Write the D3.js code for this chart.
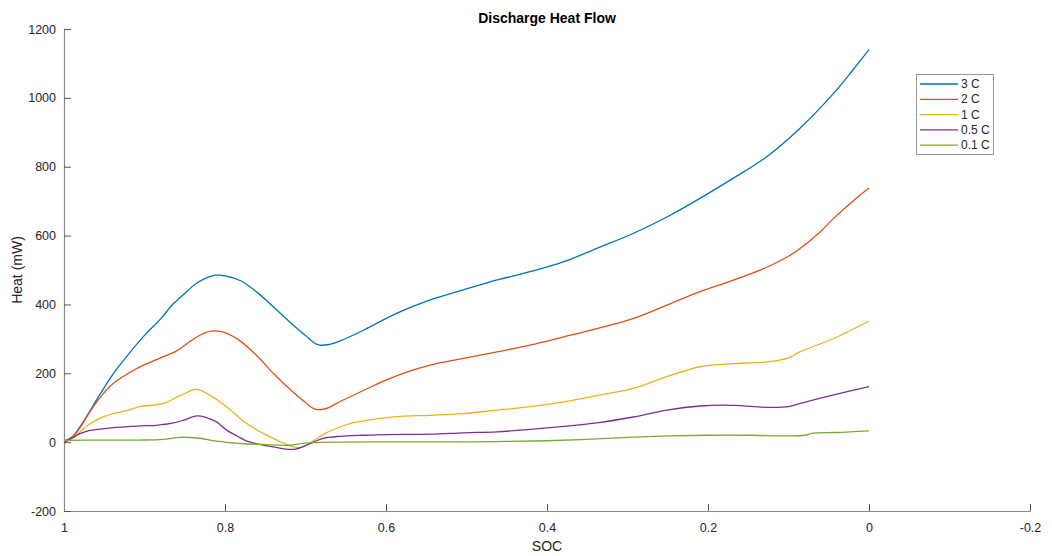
<!DOCTYPE html>
<html><head><meta charset="utf-8">
<script src="https://cdn.jsdelivr.net/npm/d3@7"></script>
<style>
body{margin:0;background:#fff;}
svg{display:block;font-family:"Liberation Sans",Arial,Helvetica,sans-serif;}
</style></head>
<body><svg id="c" width="1052" height="556"></svg>
<script>
// ---- data ----
const seriesNames = ["3 C","2 C","1 C","0.5 C","0.1 C"];
const seriesColors = ["#0072BD","#D95319","#EDB120","#7E2F8E","#77AC30"];

const soc3C  = [1,0.99,0.98,0.97,0.955,0.94,0.92,0.9,0.88,0.865,0.85,0.835,0.82,0.81,0.8,0.78,0.76,0.74,0.72,0.7,0.685,0.67,0.657,0.628,0.587,0.545,0.504,0.462,0.421,0.379,0.338,0.293,0.251,0.21,0.169,0.127,0.086,0.044,0.02,0];
const heat3C = [3,15,45,82,140,195,255,310,358,400,432,462,480,485,483,468,435,393,350,310,283,284,294,325,374,413,442,471,495,524,563,606,654,708,766,829,911,1013,1081,1140];

const soc2C  = [1,0.99,0.98,0.97,0.955,0.94,0.92,0.9,0.88,0.86,0.845,0.83,0.815,0.8,0.78,0.76,0.74,0.72,0.7,0.688,0.675,0.657,0.628,0.6,0.57,0.545,0.504,0.462,0.421,0.379,0.338,0.293,0.251,0.21,0.169,0.127,0.1,0.086,0.06,0.044,0.02,0];
const heat2C = [3,14,42,80,130,168,200,225,245,265,290,312,323,318,292,250,200,155,115,96,97,118,150,180,207,224,243,262,282,306,330,359,398,437,470,508,540,562,612,650,700,738];

const soc1C  = [1,0.99,0.98,0.97,0.955,0.94,0.92,0.906,0.877,0.856,0.835,0.82,0.798,0.773,0.74,0.715,0.705,0.69,0.675,0.657,0.645,0.628,0.587,0.545,0.504,0.462,0.421,0.379,0.338,0.293,0.251,0.21,0.169,0.127,0.1,0.086,0.044,0];
const heat1C = [-3,10,30,50,70,82,93,103,112,135,153,138,103,54,11,-14,-15,4,26,44,54,62,74,78,83,93,103,117,135,156,190,219,228,233,245,262,301,352];

const soc05C  = [1,0.99,0.98,0.97,0.955,0.935,0.906,0.885,0.865,0.85,0.835,0.825,0.81,0.798,0.785,0.773,0.76,0.74,0.715,0.699,0.69,0.678,0.657,0.628,0.6,0.545,0.504,0.462,0.421,0.379,0.338,0.293,0.251,0.21,0.169,0.127,0.1,0.086,0.044,0];
const heat05C = [0,12,25,33,38,43,47,49,55,65,76,73,58,35,18,3,-5,-14,-21,-9,0,11,17,20,22,23,27,30,37,46,56,73,93,105,107,101,103,112,137,161];

const soc01C  = [1,0.95,0.906,0.877,0.856,0.835,0.81,0.78,0.74,0.72,0.7,0.67,0.6,0.5,0.45,0.4,0.35,0.3,0.25,0.2,0.15,0.1,0.08,0.07,0.04,0];
const heat01C = [5,6,6,8,14,12,3,-4,-8,-9,-3,0,1,1,2,4,8,14,18,20,20,18,20,26,28,33];

const xTicks = [1,0.8,0.6,0.4,0.2,0,-0.2];
const xTickLabels = ["1","0.8","0.6","0.4","0.2","0","-0.2"];
const yTicks = [-200,0,200,400,600,800,1000,1200];
const yTickLabels = ["-200","0","200","400","600","800","1000","1200"];

const socs = [soc3C,soc2C,soc1C,soc05C,soc01C];
const heats = [heat3C,heat2C,heat1C,heat05C,heat01C];

// ---- layout ----
const svg = d3.select("#c");
const L = 64, R = 1030, T = 29, B = 511;
const x = d3.scaleLinear().domain([1,-0.2]).range([L,R]);
const y = d3.scaleLinear().domain([-200,1200]).range([B,T]);

const txt = "#262626";

// lines
const line = d3.line().x(d=>x(d[0])).y(d=>y(d[1])).curve(d3.curveCatmullRom.alpha(0.5));
const g = svg.append("g");
seriesNames.forEach((n,i)=>{
  const pts = socs[i].map((s,k)=>[s,heats[i][k]]);
  g.append("path").attr("d",line(pts)).attr("fill","none")
   .attr("stroke",seriesColors[i]).attr("stroke-width",1.3);
});

// axes
const xAxis = d3.axisBottom(x).tickValues(xTicks).tickFormat((d,i)=>xTickLabels[i]).tickSizeInner(-7).tickSizeOuter(0).tickPadding(12);
const yAxis = d3.axisLeft(y).tickValues(yTicks).tickFormat((d,i)=>yTickLabels[i]).tickSizeInner(-7).tickSizeOuter(0).tickPadding(8);
const gx = svg.append("g").attr("transform",`translate(0,${B})`).call(xAxis);
const gy = svg.append("g").attr("transform",`translate(${L},0)`).call(yAxis);
[gx,gy].forEach(a=>{
  a.select(".domain").attr("stroke","#8a8a8a").attr("stroke-width",1.2);
  a.selectAll(".tick line").attr("stroke","#555").attr("stroke-width",1);
  a.selectAll(".tick text").attr("fill",txt).style("font-size","12.5px").style("font-family","'Liberation Sans',Arial,sans-serif");
});

// titles
svg.append("text").attr("x",(L+R)/2).attr("y",23).attr("text-anchor","middle")
  .attr("fill","#000").style("font-weight","bold").style("font-size","14px").text("Discharge Heat Flow");
svg.append("text").attr("x",(L+R)/2).attr("y",551).attr("text-anchor","middle")
  .attr("fill",txt).style("font-size","14px").text("SOC");
svg.append("text").attr("transform",`translate(22,${(T+B)/2}) rotate(-90)`).attr("text-anchor","middle")
  .attr("fill",txt).style("font-size","14px").text("Heat (mW)");

// legend
const lg = svg.append("g");
lg.append("rect").attr("x",916.5).attr("y",74.5).attr("width",77).attr("height",80)
  .attr("fill","#fff").attr("stroke","#999").attr("stroke-width",1);
seriesNames.forEach((n,i)=>{
  const yy = 84 + i*15.3;
  lg.append("line").attr("x1",920).attr("x2",958).attr("y1",yy).attr("y2",yy)
    .attr("stroke",seriesColors[i]).attr("stroke-width",1.3);
  lg.append("text").attr("x",961).attr("y",yy+4).attr("fill",txt)
    .style("font-size","12px").text(n);
});
</script></body></html>
